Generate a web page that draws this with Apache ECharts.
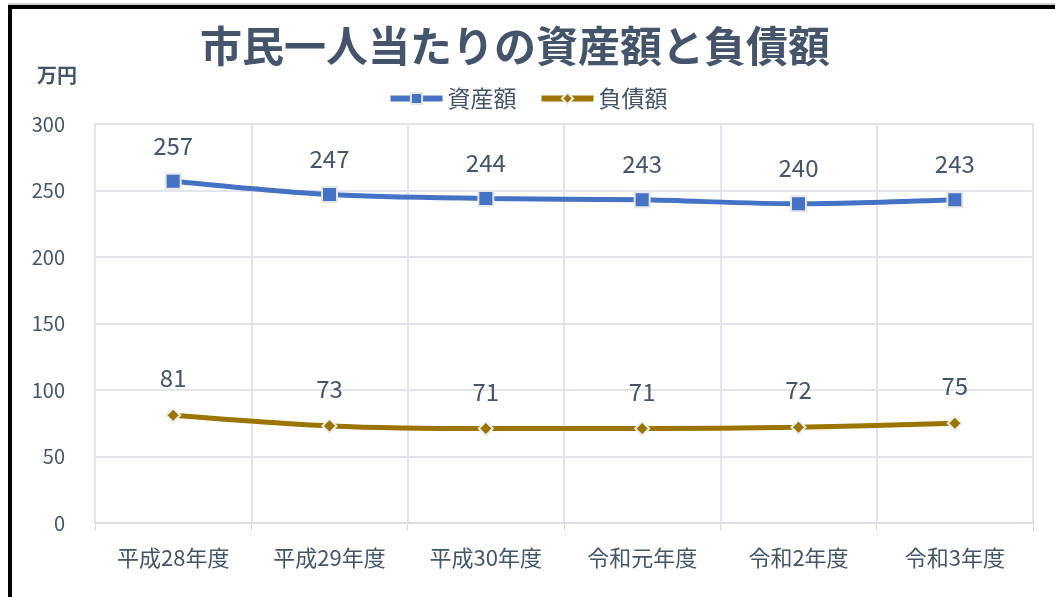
<!DOCTYPE html>
<html><head><meta charset="utf-8">
<script src="https://cdn.jsdelivr.net/npm/echarts@6/dist/echarts.min.js"></script>
<style>html,body{margin:0;padding:0;background:#fff}#c{width:1055px;height:597px;position:relative}
#bl{position:absolute;left:8px;top:5px;width:4px;height:592px;background:#000}
#bt{position:absolute;left:8px;top:5px;width:1047px;height:4px;background:#000}
#bt2{position:absolute;left:8px;top:3px;width:1047px;height:2px;background:#d0d0d0}
</style></head>
<body><div id="c"></div><div id="bt2"></div><div id="bl"></div><div id="bt"></div>
<script>
const categories = ['平成28年度','平成29年度','平成30年度','令和元年度','令和2年度','令和3年度'];
const assets = [257, 247, 244, 243, 240, 243];
const debts = [81, 73, 71, 71, 72, 75];
const seriesNames = ['資産額','負債額'];
const titleText = '市民一人当たりの資産額と負債額';
const unitText = '万円';

const font = '"Noto Sans CJK JP", "Noto Sans", sans-serif';
const chart = echarts.init(document.getElementById('c'));
chart.setOption({
  animation: false,
  textStyle: {fontFamily: font},
  title: [{
    text: titleText, left: 510, top: 20, textAlign: 'center',
    textStyle: {fontSize: 42, fontWeight: 'bold', color: '#44546A', fontFamily: font}
  },{
    text: unitText, left: 32, top: 60,
    textStyle: {fontSize: 20, fontWeight: 'bold', color: '#44546A', fontFamily: font}
  }],
  legend: {
    top: 82, left: 'center', itemGap: 22, itemWidth: 52, itemHeight: 14,
    lineStyle: {width: 6},
    textStyle: {fontSize: 23, color: '#44546A', fontFamily: font},
    data: seriesNames
  },
  grid: {left: 95, right: 22, top: 124, bottom: 74},
  xAxis: {
    type: 'category', data: categories, boundaryGap: true,
    axisLine: {lineStyle: {color: '#D9DDE6', width: 2}},
    axisTick: {show: true, length: 8, lineStyle: {color: '#D9DDE6'}},
    splitLine: {show: true, lineStyle: {color: '#E1E4EB', width: 2}},
    axisLabel: {fontSize: 22, color: '#44546A', margin: 24, fontFamily: font}
  },
  yAxis: {
    type: 'value', min: 0, max: 300, interval: 50,
    axisLine: {show: false}, axisTick: {show: false},
    splitLine: {lineStyle: {color: '#E1E4EB', width: 2}},
    axisLabel: {fontSize: 20, color: '#44546A', margin: 30, fontFamily: font}
  },
  series: [{
    name: seriesNames[0], type: 'line', data: assets, smooth: 0.3,
    lineStyle: {color: '#4472C4', width: 5},
    itemStyle: {color: '#4472C4', borderColor: '#E6E6E6', borderWidth: 2},
    symbol: 'rect', symbolSize: 15,
    label: {show: true, position: 'top', distance: 15, fontSize: 24, color: '#44546A', fontFamily: font}
  },{
    name: seriesNames[1], type: 'line', data: debts, smooth: 0.3,
    lineStyle: {color: '#9C7400', width: 5},
    itemStyle: {color: '#9C7400', borderColor: '#EDEDED', borderWidth: 2},
    symbol: 'diamond', symbolSize: 14,
    label: {show: true, position: 'top', distance: 17, fontSize: 24, color: '#44546A', fontFamily: font}
  }]
});
</script></body></html>
